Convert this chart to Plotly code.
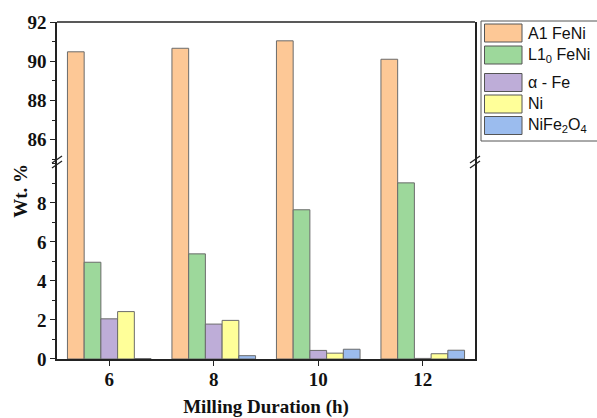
import plotly.graph_objects as go

# Milling durations (h) and phase weight fractions (wt. %)
durations = ["6", "8", "10", "12"]
phase_names = ["A1 FeNi", "L1<sub>0</sub> FeNi", "\u03b1 - Fe", "Ni", "NiFe<sub>2</sub>O<sub>4</sub>"]
a1_feni = [90.48, 90.66, 91.04, 90.10]
l10_feni = [4.96, 5.39, 7.65, 9.03]
alpha_fe = [2.06, 1.79, 0.44, 0.03]
ni = [2.43, 1.98, 0.30, 0.27]
nife2o4 = [0.02, 0.17, 0.50, 0.45]
series = [a1_feni, l10_feni, alpha_fe, ni, nife2o4]
fill_colors = ["#FDC896", "#9DD89B", "#BEADD8", "#FFFF99", "#9BBCEE"]
edge_color = "#6b6b6b"

# broken y axis: lower panel 0..10.1, upper panel 84.86..92
lower_range = [0, 10.1]
upper_range = [84.86, 92]
split = 0.5846

serif = "Liberation Serif, Times New Roman, serif"
sans = "Liberation Sans, Arial, sans-serif"
label_font = dict(family=serif, size=19, color="#111", weight="bold")

fig = go.Figure()
for name, vals, col in zip(phase_names, series, fill_colors):
    for ax in ("y", "y2"):
        fig.add_trace(go.Bar(
            x=durations, y=vals, name=name, yaxis=ax, xaxis="x",
            marker=dict(color=col, line=dict(color=edge_color, width=1)),
            showlegend=False,
        ))

axis_common = dict(
    showline=True, linecolor="#222", linewidth=1.6, mirror=True,
    ticks="outside", ticklen=5, tickwidth=1.3, tickcolor="#222",
    showgrid=False, zeroline=False, automargin=False,
    tickfont=label_font,
    minor=dict(dtick=1, ticks="outside", ticklen=3, tickwidth=1, tickcolor="#222"),
)

fig.update_layout(
    width=597, height=418,
    margin=dict(l=57, r=122, t=22, b=59),
    paper_bgcolor="white", plot_bgcolor="white",
    barmode="group", bargap=0.2, bargroupgap=0,
    xaxis=dict(
        type="category", showline=True, linecolor="#222", linewidth=1.6,
        ticks="outside", ticklen=5, tickwidth=1.3, tickcolor="#222",
        showgrid=False, zeroline=False, anchor="y", automargin=False,
        tickfont=label_font, ticklabelstandoff=-3,
        title=dict(text="Milling Duration (h)", standoff=14, font=label_font),
    ),
    yaxis=dict(domain=[0, split], range=lower_range, tickvals=[0, 2, 4, 6, 8],
               anchor="x", **axis_common),
    yaxis2=dict(domain=[split, 1], range=upper_range, tickvals=[86, 88, 90, 92],
                anchor="x", **axis_common),
)

# y title centred on the full (broken) axis height
fig.add_annotation(
    text="Wt. %", textangle=-90, xref="paper", yref="paper",
    x=-0.088, y=0.5, xanchor="center", yanchor="middle", showarrow=False,
    font=label_font,
)

# top frame line
fig.add_shape(type="line", xref="paper", yref="paper", x0=0, x1=1, y0=1, y1=1,
              line=dict(color="#222", width=1.6))

# axis break marks on left and right spines
pw, ph = 418.0, 337.0
for xp in (0, 1):
    for dy in (-2.5, 2.5):
        yc = split + dy / ph
        fig.add_shape(type="line", xref="paper", yref="paper",
                      x0=xp - 5 / pw, y0=yc - 3.5 / ph, x1=xp + 5 / pw, y1=yc + 3.5 / ph,
                      line=dict(color="#222", width=1.3))

# legend box with large swatches
def px_x(px):
    return (px - 57) / pw

def px_y(py):
    return (359 - py) / ph

fig.add_shape(type="rect", xref="paper", yref="paper",
              x0=px_x(481), x1=px_x(600), y0=px_y(141), y1=px_y(21),
              line=dict(color="#555", width=1), fillcolor="white", layer="above")
entry_centers = [33, 55, 82.5, 104, 125.5]
for name, col, cy in zip(phase_names, fill_colors, entry_centers):
    fig.add_shape(type="rect", xref="paper", yref="paper",
                  x0=px_x(484.5), x1=px_x(522), y0=px_y(cy + 9), y1=px_y(cy - 9),
                  line=dict(color="#555", width=1), fillcolor=col, layer="above")
    fig.add_annotation(text=name, xref="paper", yref="paper",
                       x=px_x(526), y=px_y(cy), xanchor="left", yanchor="middle",
                       showarrow=False,
                       font=dict(family=sans, size=16, color="#111"))

fig.write_html("out.html")
